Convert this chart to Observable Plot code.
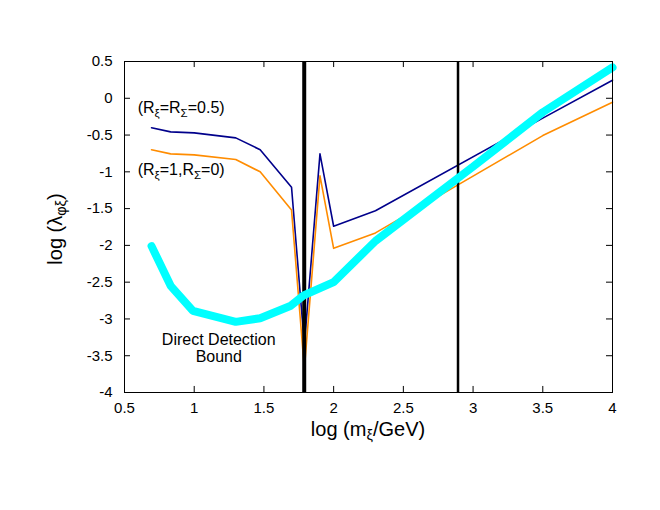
<!DOCTYPE html>
<html><head><meta charset="utf-8">
<script src="https://cdn.jsdelivr.net/npm/d3@7"></script>
<script src="https://cdn.jsdelivr.net/npm/@observablehq/plot@0.6"></script>
<style>body{margin:0;background:#fff;font-family:"Liberation Sans",Arial,Helvetica,sans-serif}</style>
</head><body><div id="chart"></div>
<script>
// data
const massX   = [0.694, 0.831, 1.0, 1.298, 1.473, 1.698, 1.79, 1.902, 2.0, 2.3, 3.5, 4.0];
const blueY   = [-0.40, -0.457, -0.47, -0.538, -0.70, -1.21, -3.35, -0.756, -1.74, -1.53, -0.27, 0.246];
const orangeY = [-0.70, -0.756, -0.77, -0.833, -1.0, -1.52, -3.68, -1.055, -2.04, -1.83, -0.507, -0.053];
const cyanX   = [0.694, 0.831, 0.991, 1.298, 1.473, 1.693, 1.785, 2.0, 2.3, 3.0, 3.5, 4.0];
const cyanY   = [-2.01, -2.55, -2.89, -3.04, -2.99, -2.82, -2.68, -2.50, -1.94, -0.93, -0.19, 0.42];
const vlineX  = [1.789, 2.892];
const vlineW  = [4, 2.5];
const xTicks  = [0.5, 1, 1.5, 2, 2.5, 3, 3.5, 4];
const yTicks  = [0.5, 0, -0.5, -1, -1.5, -2, -2.5, -3, -3.5, -4];
const labelA  = ["(R", "ξ", "=R", "Σ", "=0.5)"];
const labelB  = ["(R", "ξ", "=1,R", "Σ", "=0)"];
const ddText  = "Direct Detection\nBound";

const blue = massX.map((x, i) => ({x, y: blueY[i]}));
const orange = massX.map((x, i) => ({x, y: orangeY[i]}));
const cyan = cyanX.map((x, i) => ({x, y: cyanY[i]}));
const vlines = vlineX.map((x, i) => ({x, w: vlineW[i]}));

const X0 = 0.5, X1 = 4, Y0 = -4, Y1 = 0.5;
const tx = 0.043, ty = 0.082; // inward tick length in data units

const plot = Plot.plot({
  width: 660, height: 510,
  marginLeft: 124, marginRight: 48, marginTop: 61, marginBottom: 118,
  style: {fontFamily: '"Liberation Sans",Arial,Helvetica,sans-serif', fontSize: "15px", color: "#000", background: "#fff"},
  x: {domain: [X0, X1]},
  y: {domain: [Y0, Y1]},
  marks: [
    Plot.axisX(xTicks, {tickSize: 0, tickPadding: 10, tickFormat: d => String(d), fontSize: 15, label: null}),
    Plot.axisY(yTicks, {tickSize: 0, tickPadding: 12, tickFormat: d => String(d), fontSize: 15, label: null}),
    Plot.ruleX(xTicks, {x: d => d, y1: Y0, y2: Y0 + ty, stroke: "#000"}),
    Plot.ruleX(xTicks, {x: d => d, y1: Y1, y2: Y1 - ty, stroke: "#000"}),
    Plot.ruleY(yTicks, {y: d => d, x1: X0, x2: X0 + tx, stroke: "#000"}),
    Plot.ruleY(yTicks, {y: d => d, x1: X1, x2: X1 - tx, stroke: "#000"}),
    Plot.line(blue, {x: "x", y: "y", stroke: "#00008b", strokeWidth: 1.6}),
    Plot.line(orange, {x: "x", y: "y", stroke: "#ff8c00", strokeWidth: 1.6}),
    Plot.ruleX(vlines, {x: "x", strokeWidth: "w", stroke: "#000"}),
    Plot.line(cyan, {x: "x", y: "y", stroke: "#00ffff", strokeWidth: 8, strokeLinejoin: "miter"}),
    Plot.text([ddText], {x: 1.176, y: -3.395, text: d => d, lineHeight: 1.05, fontSize: 16, fill: "#000"}),
    Plot.frame({stroke: "#000", strokeWidth: 1})
  ]
});
document.getElementById("chart").appendChild(plot);

const svg = d3.select(plot);
const sx = plot.scale("x"), sy = plot.scale("y");
function rich(parts, x, y, size, anchor, rotate) {
  const t = svg.append("text")
    .attr("text-anchor", anchor)
    .attr("font-size", size)
    .attr("fill", "#000")
    .attr("font-family", '"Liberation Sans",Arial,Helvetica,sans-serif');
  if (rotate) t.attr("transform", `translate(${x},${y}) rotate(-90)`);
  else t.attr("transform", `translate(${x},${y})`);
  parts.forEach((p, i) => {
    const sub = i % 2 === 1;
    t.append("tspan")
      .attr("font-size", sub ? size * 0.72 : size)
      .attr("baseline-shift", sub ? "-30%" : null)
      .text(p);
  });
}
rich(labelA, sx.apply(0.598), sy.apply(-0.207), 16, "start");
rich(labelB, sx.apply(0.598), sy.apply(-1.05), 16, "start");
rich(["log (m", "ξ", "/GeV)"], 368, 436, 20, "middle");
rich(["log (λ", "φξ", ")"], 62, 229, 20, "middle", true);
</script>
</body></html>
